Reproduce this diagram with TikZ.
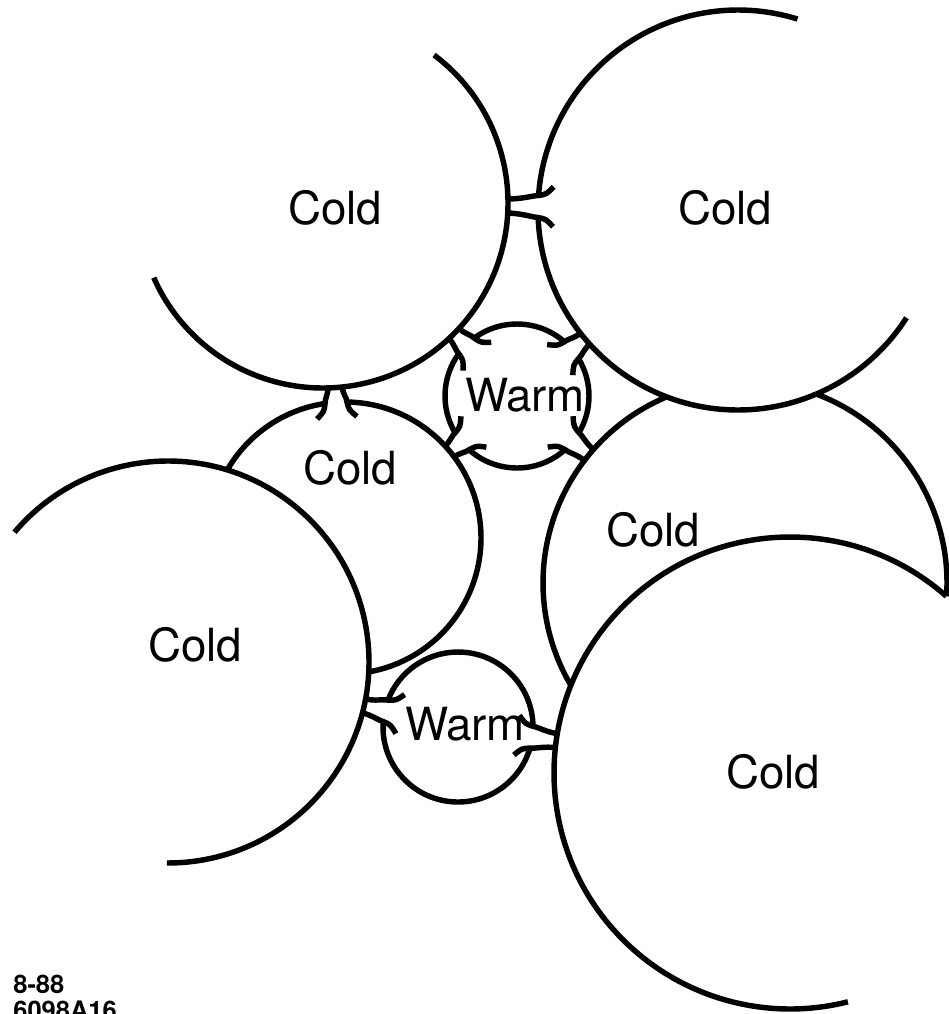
\documentclass[tikz,border=0pt]{standalone}
\usepackage{fontspec}
\setmainfont{TeX Gyre Heros}
\usetikzlibrary{positioning}

% arc of a cell wall: centre x, centre y, radius, start angle, end angle
\newcommand{\wallarc}[5]{%
  \draw[wall] (#1,#2) ++(#4:#3) arc[start angle=#4, end angle=#5, radius=#3];}

% neck between two cells, opening into the cell at (#1,#2) of radius #3,
% pointing along angle #4 across a gap #5
\newcommand{\neckjoin}[5]{%
  \begin{scope}[shift={(#1,#2)}, rotate=#4]
    \pgfmathsetmacro{\px}{#3*cos(asin(11/#3))}
    \pgfmathsetmacro{\jx}{#3+#5+2}
    \foreach \s in {1,-1}
      \draw[wall] (\jx,7*\s) .. controls ({(\jx+\px)/2},7*\s) and ({\px+5},11*\s)
        .. (\px,11*\s) .. controls ({\px-8},12.5*\s) .. ({\px-15},20*\s);
  \end{scope}}

\begin{document}
\begin{tikzpicture}[x=0.02cm, y=0.02cm,
    wall/.style={line width=3.1pt},
    lbl/.style={font=\fontsize{26}{30}\selectfont, inner sep=0pt},
    tag/.style={font=\fontsize{14.5}{16}\selectfont\bfseries, inner sep=0pt, anchor=base west}
]
\useasboundingbox (0,0) rectangle (948,-1014);

% cold cells
\wallarc{323}{-203}{185}{53.1}{-156.2}
\wallarc{738}{-210}{200}{72.7}{175.85}
\wallarc{738}{-210}{200}{182.15}{327.4}
\wallarc{345}{-538}{136}{150}{98.4}
\wallarc{345}{-538}{136}{89.2}{-79.8}
\wallarc{745}{-583}{202}{210.4}{112.8}
\wallarc{745}{-583}{202}{69.3}{-3.8}
\wallarc{168}{-662}{201}{139.8}{-90.3}
\wallarc{790}{-773}{236}{48.5}{284.2}

% warm cells
\wallarc{517}{-396}{72}{48.9}{126.4}
\wallarc{517}{-396}{72}{144.0}{210.7}
\wallarc{517}{-396}{72}{228.3}{311.8}
\wallarc{517}{-396}{72}{329.4}{391.3}
\wallarc{458}{-727}{75}{0.5}{159.0}
\wallarc{458}{-727}{75}{175.8}{343.7}

% necks
\neckjoin{738}{-210}{200}{179}{30}
\neckjoin{345}{-538}{136}{93.8}{14.7}
\neckjoin{517}{-396}{72}{135.2}{16.7}
\neckjoin{517}{-396}{72}{40.1}{16.9}
\neckjoin{517}{-396}{72}{219.5}{15}
\neckjoin{517}{-396}{72}{320.6}{20.9}
\neckjoin{458}{-727}{75}{167.4}{21.2}
\neckjoin{458}{-727}{75}{352.1}{24.2}

% labels
\node[lbl] (coldA)   at (335,-208) {Cold};
\node[lbl] (coldB)   at (725,-208) {Cold};
\node[lbl] (warmTop) at (525,-395) {Warm};
\node[lbl] (coldC)   at (350,-468) {Cold};
\node[lbl] (coldD)   at (653,-530) {Cold};
\node[lbl] (coldE)   at (195,-645) {Cold};
\node[lbl] (warmLow) at (465,-724) {Warm};
\node[lbl] (coldF)   at (773,-772) {Cold};

\node[tag] (date) at (13,-993) {8-88};
\node[tag] (code) at (13,-1019) {6098A16};
\end{tikzpicture}
\end{document}
